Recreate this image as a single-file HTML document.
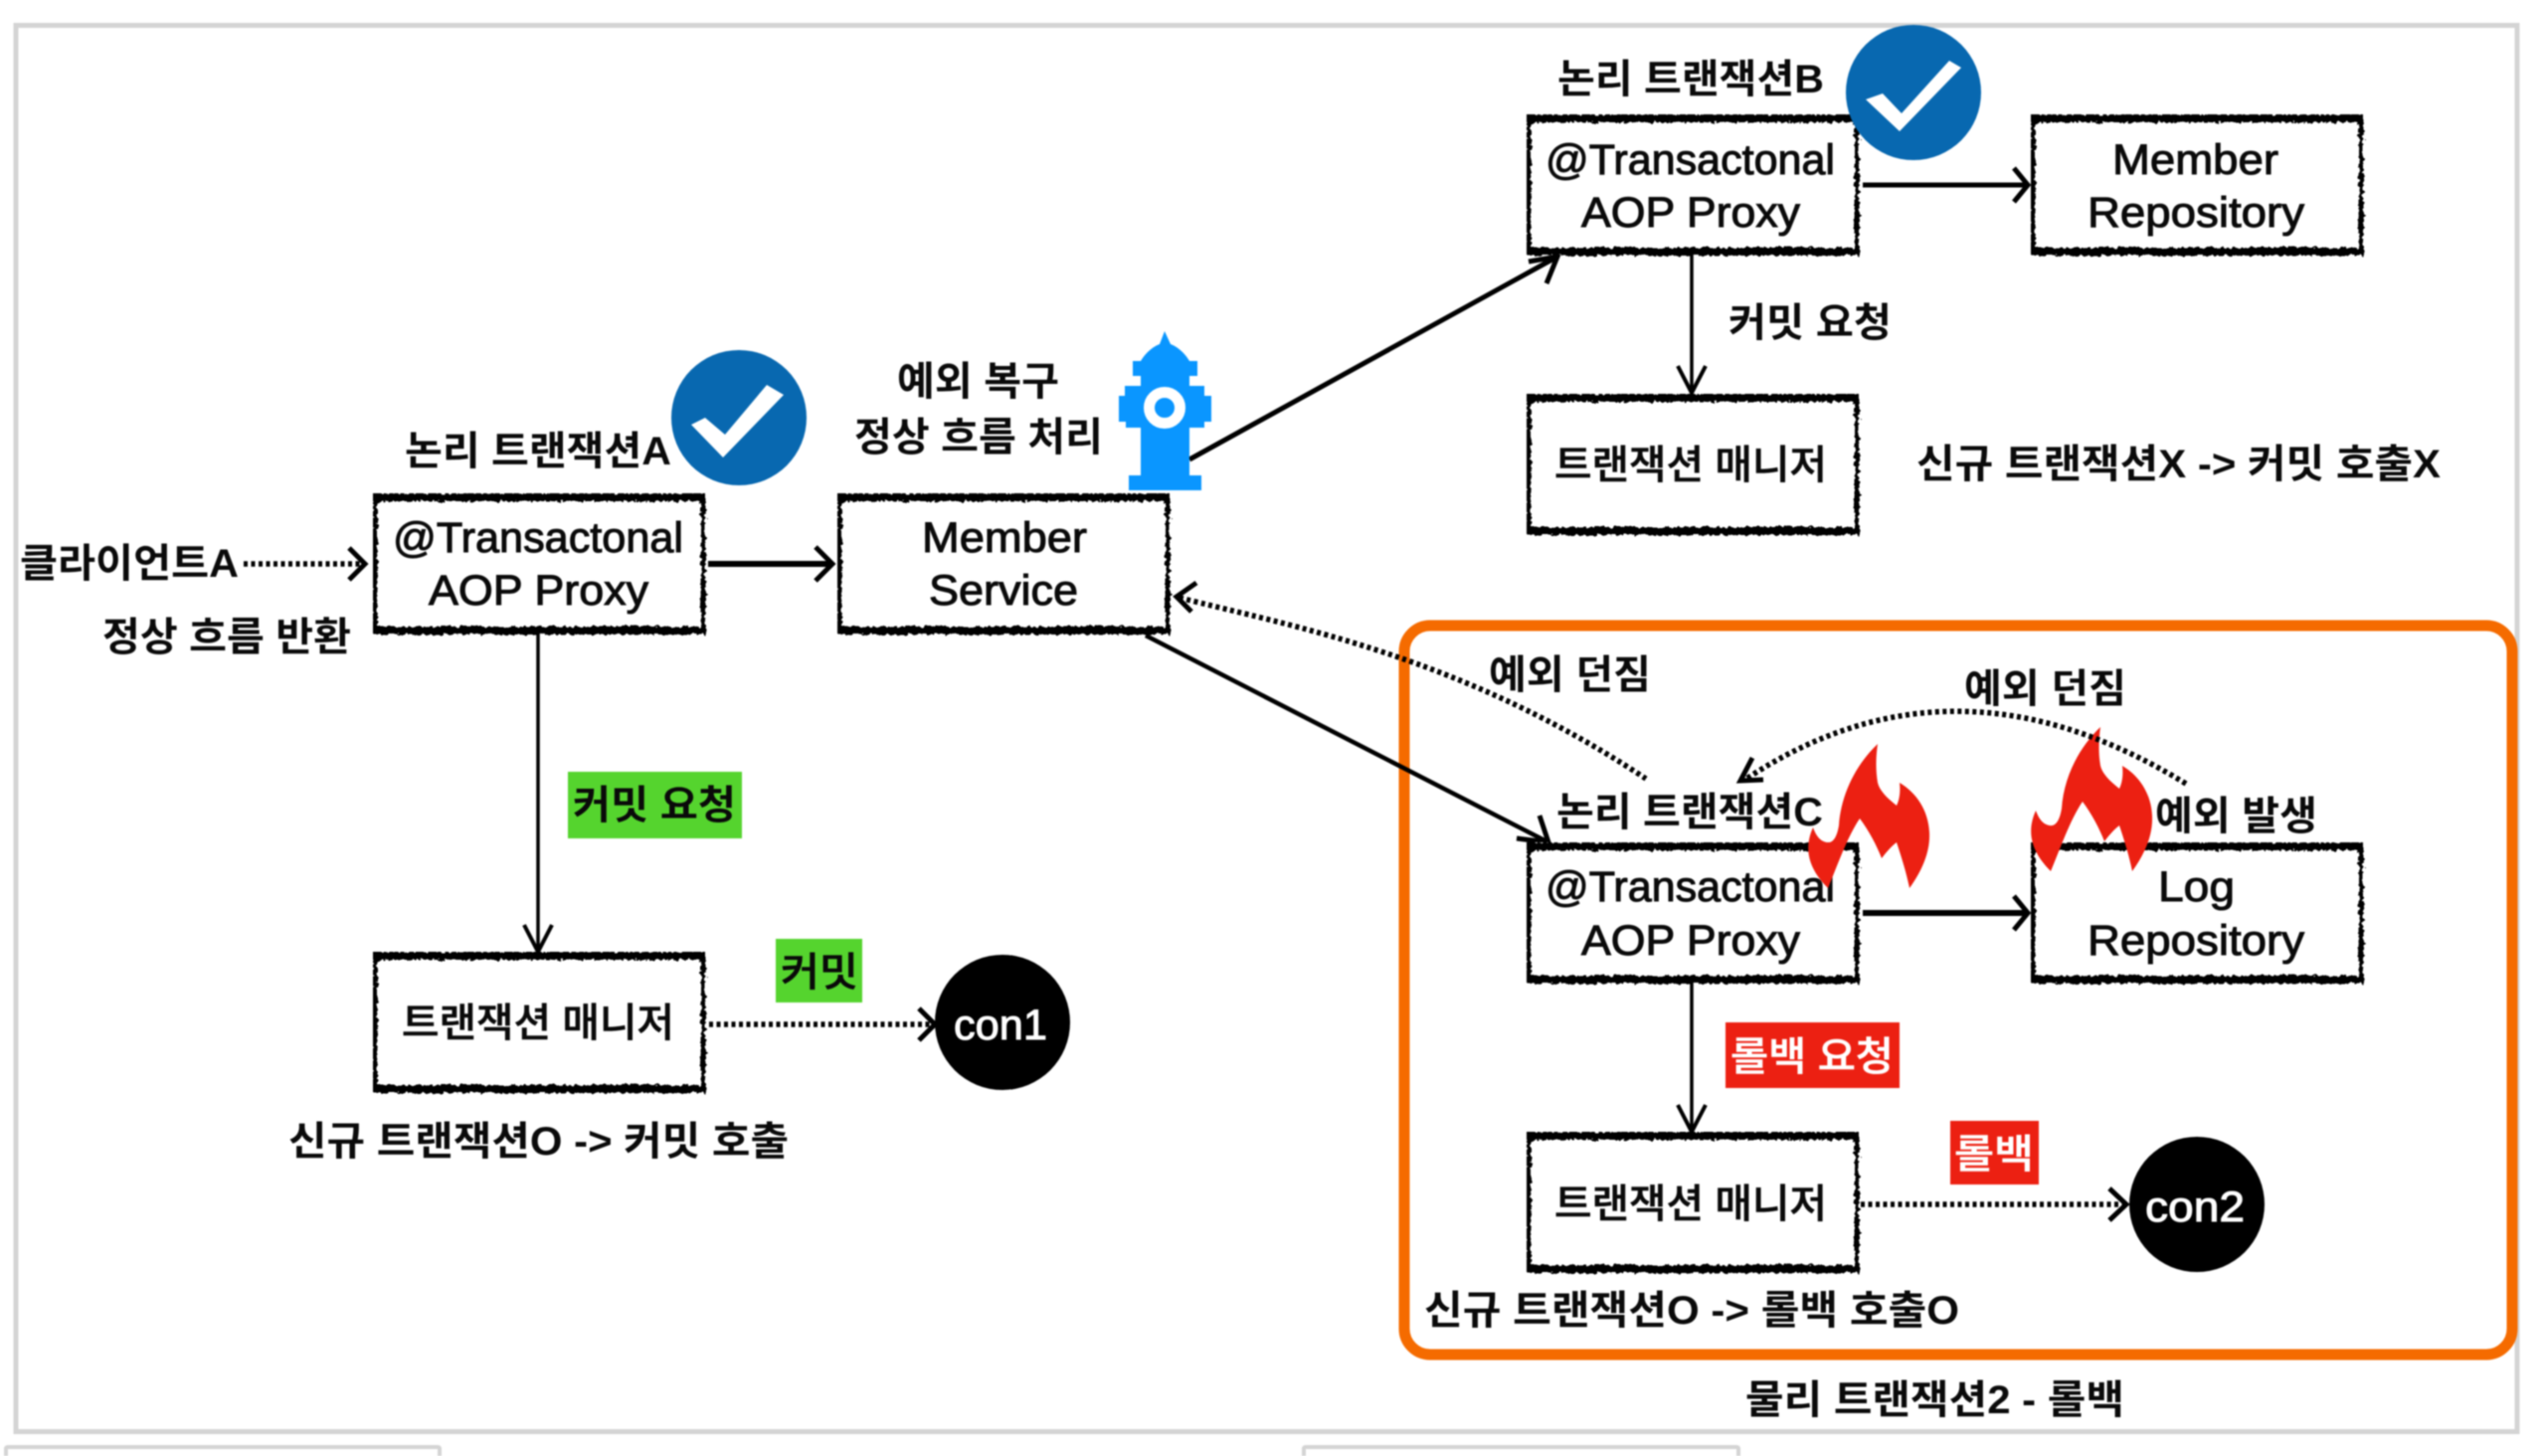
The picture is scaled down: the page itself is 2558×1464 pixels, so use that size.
<!DOCTYPE html>
<html lang="ko">
<head>
<meta charset="utf-8">
<title>물리 트랜잭션2 - 롤백</title>
<style>
html,body{margin:0;padding:0;background:#fff;width:2558px;height:1464px;overflow:hidden}
svg{display:block;filter:blur(.9px)}
text{font-family:"Liberation Sans","Noto Sans CJK KR",sans-serif;fill:#0a0a0a}
.b{font-size:40px;font-weight:700}
.m{font-size:40px;font-weight:500;stroke:#0a0a0a;stroke-width:.6px}
.e{font-size:43px;stroke:#0a0a0a;stroke-width:1px}
.w{fill:#fff;stroke:#fff}
.line{fill:none;stroke:#000}
.dot{fill:none;stroke:#000;stroke-width:5.5;stroke-dasharray:4 3.5}
.head{fill:none;stroke:#000;stroke-width:5;stroke-linejoin:miter}
</style>
</head>
<body>
<svg width="2558" height="1464" viewBox="0 0 2558 1464" xmlns="http://www.w3.org/2000/svg">
<defs>
<filter id="rough" filterUnits="userSpaceOnUse" x="0" y="0" width="2558" height="1464">
<feTurbulence type="fractalNoise" baseFrequency="0.25" numOctaves="2" seed="4" result="n"/>
<feDisplacementMap in="SourceGraphic" in2="n" scale="6" xChannelSelector="R" yChannelSelector="G"/>
</filter>
<g id="box">
<rect x="0" y="0" width="334" height="141" fill="#fff"/>
<g filter="url(#rough)" stroke="#000" fill="none">
<path d="M0 4H334M0 138H334" stroke-width="8"/>
<path d="M2 0V141M332 0V141" stroke-width="5"/>
</g>
</g>
<path id="flame" fill="#ec2012" d="M1891 748C1868 770 1854 800 1852 830C1850 842 1846 848 1840 847C1833 846 1829 840 1826 832C1817 852 1820 872 1841 893C1850 872 1860 842 1873 823C1882 835 1890 850 1895 863C1901 855 1906 850 1910 847C1915 862 1920 878 1923 893C1936 875 1944 856 1943 837C1942 815 1930 797 1913 787C1914 796 1913 804 1910 810C1900 802 1893 795 1891 787C1889 775 1889 762 1891 748Z"/>
</defs>

<rect width="2558" height="1464" fill="#fff"/>

<!-- outer frame -->
<rect x="16" y="25.500" width="2515" height="1414" fill="none" stroke="#d4d4d4" stroke-width="5"/>
<path d="M6 1464V1457Q6 1455 8 1455H440Q442 1455 442 1457V1464" fill="none" stroke="#d4d4d4" stroke-width="4"/>
<path d="M1311 1464V1457Q1311 1455 1313 1455H1746Q1748 1455 1748 1457V1464" fill="none" stroke="#d4d4d4" stroke-width="4"/>

<!-- orange group -->
<rect x="1412" y="629" width="1114" height="733" rx="26" ry="26" fill="none" stroke="#f56b00" stroke-width="11"/>

<!-- connectors -->
<path class="dot" d="M245 567H364"/>
<path class="head" d="M351 551L367 567L351 583"/>
<path class="line" style="stroke-width:6" d="M712 567H834"/>
<path class="head" d="M820 550L837 567L820 584"/>
<path class="line" style="stroke-width:3.500" d="M541 637V957"/>
<path class="head" style="stroke-width:4" d="M527 930L541 957L555 930"/>
<path class="dot" d="M713 1030H938"/>
<path class="head" d="M924 1014L940 1030L924 1046"/>
<path class="line" style="stroke-width:5" d="M1196 462L1566 258"/>
<path class="head" d="M1537 263L1566 258L1555 285"/>
<path class="line" style="stroke-width:4.500" d="M1152 639L1557 847"/>
<path class="head" d="M1548 820L1557 847L1525 843"/>
<path class="dot" d="M1186 601C1300 630 1470 660 1655 783"/>
<path class="head" d="M1203 586L1183 600L1198 615"/>
<path class="line" style="stroke-width:5" d="M1873 186H2037"/>
<path class="head" d="M2025 169L2039 186L2025 203"/>
<path class="line" style="stroke-width:3.500" d="M1701 255V395"/>
<path class="head" style="stroke-width:4" d="M1687 368L1701 395L1715 368"/>
<path class="line" style="stroke-width:6" d="M1873 918H2037"/>
<path class="head" d="M2025 901L2039 918L2025 935"/>
<path class="line" style="stroke-width:3.500" d="M1701 988V1138"/>
<path class="head" style="stroke-width:4" d="M1687 1111L1701 1138L1715 1111"/>
<path class="dot" d="M1871 1211H2136"/>
<path class="head" d="M2121 1195L2138 1211L2121 1227"/>

<!-- boxes -->
<use href="#box" x="375" y="496"/>
<use href="#box" x="842" y="496"/>
<use href="#box" x="1535" y="115"/>
<use href="#box" x="2042" y="115"/>
<use href="#box" x="1535" y="396"/>
<use href="#box" x="1535" y="847"/>
<use href="#box" x="2042" y="847"/>
<use href="#box" x="375" y="957"/>
<use href="#box" x="1535" y="1138"/>

<!-- colour labels -->
<rect x="571" y="776" width="175" height="67" fill="#55d42e"/>
<rect x="780" y="944" width="87" height="64" fill="#55d42e"/>
<rect x="1735" y="1028" width="175" height="66" fill="#ec2012"/>
<rect x="1961" y="1127" width="89" height="64" fill="#ec2012"/>

<!-- check circles -->
<circle cx="743" cy="420" r="68" fill="#0868b0"/>
<polygon points="695,427 709,420 729,437 771,387 788,397 727,460" fill="#fff"/>
<circle cx="1924" cy="93" r="68" fill="#0868b0"/>
<polygon points="1876,100 1893,94 1912,114 1960,61 1972,68 1910,132" fill="#fff"/>

<!-- hydrant -->
<path fill="#0a96ff" d="M1171 333L1166 346C1156 350 1150 358 1147 363H1139V378H1147V388H1131V398H1125V424H1132V430H1147V478H1135V493H1208V478H1196V430H1211V424H1218V398H1211V388H1196V378H1204V363H1196C1193 358 1187 350 1177 346Z"/>
<circle cx="1171" cy="410" r="15.500" fill="#0a96ff" stroke="#fff" stroke-width="11"/>

<!-- circles con -->
<circle cx="1008" cy="1028" r="68" fill="#000"/>
<circle cx="2209" cy="1211" r="68" fill="#000"/>

<!-- text -->
<text class="b" x="407" y="467" textLength="268" lengthAdjust="spacingAndGlyphs">논리 트랜잭션A</text>
<text class="b" x="20" y="580" textLength="220" lengthAdjust="spacingAndGlyphs">클라이언트A</text>
<text class="b" x="103" y="654" textLength="250" lengthAdjust="spacingAndGlyphs">정상 흐름 반환</text>
<text class="b" x="902" y="397" textLength="163" lengthAdjust="spacingAndGlyphs">예외 복구</text>
<text class="b" x="859" y="453" textLength="250" lengthAdjust="spacingAndGlyphs">정상 흐름 처리</text>
<text class="e" x="395" y="555" textLength="292" lengthAdjust="spacingAndGlyphs">@Transactonal</text>
<text class="e" x="431" y="608" textLength="221" lengthAdjust="spacingAndGlyphs">AOP Proxy</text>
<text class="e" x="927" y="555" textLength="166" lengthAdjust="spacingAndGlyphs">Member</text>
<text class="e" x="934" y="608" textLength="150" lengthAdjust="spacingAndGlyphs">Service</text>
<text class="b" x="576" y="823" textLength="164" lengthAdjust="spacingAndGlyphs">커밋 요청</text>
<text class="m" x="404" y="1042" textLength="274" lengthAdjust="spacingAndGlyphs">트랜잭션 매니저</text>
<text class="m" x="785" y="991" textLength="78" lengthAdjust="spacingAndGlyphs">커밋</text>
<text class="e w" x="959" y="1045" textLength="94" lengthAdjust="spacingAndGlyphs">con1</text>
<text class="b" x="290" y="1161" textLength="503" lengthAdjust="spacingAndGlyphs">신규 트랜잭션O -&gt; 커밋 호출</text>

<text class="b" x="1566" y="93" textLength="268" lengthAdjust="spacingAndGlyphs">논리 트랜잭션B</text>
<text class="e" x="1554" y="175" textLength="291" lengthAdjust="spacingAndGlyphs">@Transactonal</text>
<text class="e" x="1590" y="228" textLength="220" lengthAdjust="spacingAndGlyphs">AOP Proxy</text>
<text class="e" x="2124" y="175" textLength="167" lengthAdjust="spacingAndGlyphs">Member</text>
<text class="e" x="2099" y="228" textLength="218" lengthAdjust="spacingAndGlyphs">Repository</text>
<text class="b" x="1738" y="338" textLength="164" lengthAdjust="spacingAndGlyphs">커밋 요청</text>
<text class="m" x="1563" y="481" textLength="274" lengthAdjust="spacingAndGlyphs">트랜잭션 매니저</text>
<text class="b" x="1927" y="480" textLength="527" lengthAdjust="spacingAndGlyphs">신규 트랜잭션X -&gt; 커밋 호출X</text>

<text class="b" x="1497" y="692" textLength="163" lengthAdjust="spacingAndGlyphs">예외 던짐</text>
<text class="b" x="1975" y="706" textLength="163" lengthAdjust="spacingAndGlyphs">예외 던짐</text>
<text class="b" x="1565" y="830" textLength="268" lengthAdjust="spacingAndGlyphs">논리 트랜잭션C</text>
<text class="b" x="2167" y="834" textLength="163" lengthAdjust="spacingAndGlyphs">예외 발생</text>
<text class="e" x="1554" y="906" textLength="291" lengthAdjust="spacingAndGlyphs">@Transactonal</text>
<text class="e" x="1590" y="960" textLength="220" lengthAdjust="spacingAndGlyphs">AOP Proxy</text>
<text class="e" x="2170" y="906" textLength="77" lengthAdjust="spacingAndGlyphs">Log</text>
<text class="e" x="2099" y="960" textLength="218" lengthAdjust="spacingAndGlyphs">Repository</text>
<text class="m w" x="1740" y="1076" textLength="164" lengthAdjust="spacingAndGlyphs">롤백 요청</text>
<text class="m w" x="1965" y="1174" textLength="80" lengthAdjust="spacingAndGlyphs">롤백</text>
<text class="m" x="1563" y="1224" textLength="274" lengthAdjust="spacingAndGlyphs">트랜잭션 매니저</text>
<text class="e w" x="2157" y="1228" textLength="100" lengthAdjust="spacingAndGlyphs">con2</text>
<text class="b" x="1432" y="1331" textLength="538" lengthAdjust="spacingAndGlyphs">신규 트랜잭션O -&gt; 롤백 호출O</text>
<text class="b" x="1755" y="1421" textLength="381" lengthAdjust="spacingAndGlyphs">물리 트랜잭션2 - 롤백</text>

<!-- flames -->
<use href="#flame" x="-3" y="0"/>
<use href="#flame" x="221" y="-17"/>

<!-- curved exception arrow -->
<path class="dot" d="M2198 788Q1965 645 1756 783"/>
<path class="head" d="M1773 784L1750 785L1762 762"/>
</svg>
</body>
</html>
